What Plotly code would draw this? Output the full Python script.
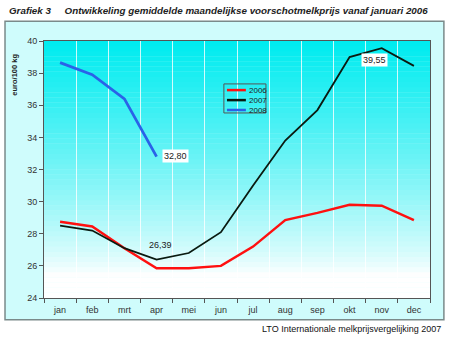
import plotly.graph_objects as go

months = ["jan", "feb", "mrt", "apr", "mei", "jun", "jul", "aug", "sep", "okt", "nov", "dec"]
prices_2006 = [28.75, 28.45, 27.1, 25.85, 25.85, 26.0, 27.2, 28.85, 29.3, 29.8, 29.75, 28.85]
prices_2007 = [28.5, 28.2, 27.1, 26.39, 26.8, 28.1, 31.0, 33.8, 35.7, 39.0, 39.55, 38.45]
prices_2008 = [38.65, 37.9, 36.4, 32.80]
y_ticks = [24, 26, 28, 30, 32, 34, 36, 38, 40]
series_names = ["2006", "2007", "2008"]
series_colors = ["#ff1010", "#0a1a10", "#2a62e8"]
series_widths = [2.5, 1.8, 2.8]

fig = go.Figure()
for name, vals, col, w in zip(series_names, [prices_2006, prices_2007, prices_2008],
                              series_colors, series_widths):
    fig.add_trace(go.Scatter(x=months[:len(vals)], y=vals, name=name, mode="lines",
                             line=dict(color=col, width=w), showlegend=False))

# Outer chart box
fig.add_shape(type="rect", xref="paper", yref="paper", x0=-0.101, x1=1.036, y0=-0.085, y1=1.077,
              fillcolor="#cffcfc", line=dict(color="#7a8a8a", width=1.5), layer="below")

# Plot area gradient (cyan top -> white bottom)
n = 50
top = (0, 236, 240)
bot = (255, 255, 255)
for i in range(n):
    t = i / (n - 1)
    f = min(1.0, max(0.0, (t - 0.08) / 0.92)) ** 0.8
    c = tuple(int(bot[k] + (top[k] - bot[k]) * f) for k in range(3))
    fig.add_shape(type="rect", xref="x domain", yref="y domain",
                  x0=0, x1=1, y0=i / n, y1=(i + 1) / n + 0.001,
                  fillcolor="rgb(%d,%d,%d)" % c, line=dict(width=0), layer="below")

# Custom compact legend
fig.add_shape(type="rect", xref="paper", yref="paper", x0=0.466, x1=0.575, y0=0.720, y1=0.833,
              fillcolor="rgba(0,0,0,0)", line=dict(color="#555", width=1))
leg_y = [0.809, 0.770, 0.7315]
for name, col, ly in zip(series_names, series_colors, leg_y):
    fig.add_shape(type="line", xref="paper", yref="paper", x0=0.474, x1=0.523, y0=ly, y1=ly,
                  line=dict(color=col, width=2.5))
    fig.add_annotation(xref="paper", yref="paper", x=0.525, y=ly, text=name, showarrow=False,
                       xanchor="left", yanchor="middle", font=dict(size=8, color="#222"))

fig.add_annotation(x="apr", y=prices_2008[3], text="32,80", showarrow=False,
                   xanchor="left", xshift=5, yshift=1, bgcolor="white",
                   font=dict(size=9, color="#222"))
fig.add_annotation(x="apr", y=prices_2007[3], text="26,39", showarrow=False,
                   yanchor="bottom", yshift=8, xshift=4, font=dict(size=9, color="#222"))
fig.add_annotation(x="nov", y=prices_2007[10], text="39,55", showarrow=False,
                   yanchor="top", yshift=-5, xshift=-7, bgcolor="white",
                   font=dict(size=9, color="#222"))

fig.add_annotation(xref="paper", yref="paper", x=-0.095, y=1.12, xanchor="left", yanchor="middle",
                   text="<b><i>Grafiek 3&nbsp;&nbsp;&nbsp;&nbsp;&nbsp;Ontwikkeling gemiddelde maandelijkse voorschotmelkprijs vanaf januari 2006</i></b>",
                   showarrow=False, font=dict(family="Liberation Sans, Arial", size=9.8, color="#222"))
fig.add_annotation(xref="paper", yref="paper", x=1.034, y=-0.12, xanchor="right", yanchor="middle",
                   text="LTO Internationale melkprijsvergelijking 2007",
                   showarrow=False, font=dict(family="Liberation Sans, Arial", size=9, color="#111"))
fig.add_annotation(xref="paper", yref="paper", x=-0.077, y=0.87, xanchor="center", yanchor="middle",
                   text="<b>euro/100 kg</b>", textangle=-90, showarrow=False,
                   font=dict(family="Liberation Sans, Arial", size=7.5, color="#222"))

fig.update_layout(
    width=450, height=338,
    margin=dict(l=44, r=20, t=41, b=40),
    paper_bgcolor="white",
    plot_bgcolor="rgba(0,0,0,0)",
    font=dict(family="Liberation Sans, Arial", size=9, color="#333"),
    showlegend=False,
    xaxis=dict(type="category", tickson="boundaries", ticks="outside", ticklen=4,
               tickcolor="#555", showgrid=True, gridcolor="rgba(255,255,255,0.8)", gridwidth=1,
               showline=True, linecolor="#555", linewidth=1, mirror=True, ticklabelstandoff=3,
               tickfont=dict(size=9, color="#333"), range=[-0.5, 11.5]),
    yaxis=dict(range=[24, 40], tickvals=y_ticks, ticks="outside", ticklen=4, tickcolor="#555",
               showgrid=False, showline=True, linecolor="#555", linewidth=1, mirror=True,
               zeroline=False, tickfont=dict(size=9, color="#333")),
)

fig.write_html("out.html")
